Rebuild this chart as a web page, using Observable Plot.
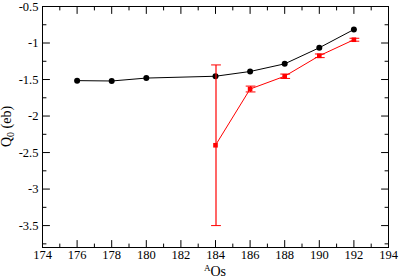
<!DOCTYPE html>
<html>
<head>
<meta charset="utf-8">
<script src="https://cdn.jsdelivr.net/npm/d3@7"></script>
<script src="https://cdn.jsdelivr.net/npm/@observablehq/plot@0.6"></script>
<style>
  html, body { margin: 0; padding: 0; background: #fff; }
  #chart { width: 399px; height: 279px; }
  #chart svg, #chart svg text, #chart svg tspan { font-family: "Liberation Serif", "Times New Roman", serif !important; }
</style>
</head>
<body>
<div id="chart"></div>
<script>
// Theory (black circles)
const theoryA = [176, 178, 180, 184, 186, 188, 190, 192];
const theoryQ0 = [-1.515, -1.52, -1.48, -1.455, -1.39, -1.285, -1.065, -0.815];
// Experiment (red squares with error bars)
const exptA = [184, 186, 188, 190, 192];
const exptQ0 = [-2.4, -1.63, -1.455, -1.175, -0.955];
const exptErr = [1.1, 0.04, 0.03, 0.025, 0.02];
// Axis ticks
const xMajor = [174, 176, 178, 180, 182, 184, 186, 188, 190, 192, 194];
const xMinor = [175, 177, 179, 181, 183, 185, 187, 189, 191, 193];
const yMajor = [-3.5, -3, -2.5, -2, -1.5, -1, -0.5];
const yMinor = [-3.75, -3.25, -2.75, -2.25, -1.75, -1.25, -0.75];

const theory = theoryA.map((a, i) => ({a, q: theoryQ0[i]}));
const expt = exptA.map((a, i) => ({a, q: exptQ0[i], lo: exptQ0[i] - exptErr[i], hi: exptQ0[i] + exptErr[i]}));

const tickShape = { draw(context, l) { context.moveTo(0, 0); context.lineTo(0, -l); } };

function ticks(values, ch, frameAnchor, rotate, length) {
  const o = {frameAnchor, rotate, length, anchor: "start", shape: tickShape, stroke: "black", strokeWidth: 1};
  o[ch] = d => d;
  return Plot.vector(values, o);
}

const fmt = d => String(d);
const RED = "#ff0000";
const SERIF = "Liberation Serif, Times New Roman, serif";

const plot = Plot.plot({
  width: 399,
  height: 279,
  marginLeft: 42,
  marginRight: 11,
  marginTop: 6,
  marginBottom: 32,
  style: {fontSize: "12px", background: "#fff", color: "black"},
  x: {domain: [174, 194], label: null},
  y: {domain: [-3.8, -0.5], label: null},
  marks: [
    Plot.frame({stroke: "black", strokeWidth: 1}),
    Plot.axisX(xMajor, {tickSize: 0, tickPadding: 3, tickFormat: fmt, label: null, fill: "black", fontFamily: SERIF, fontSize: 12.5}),
    Plot.axisY(yMajor, {tickSize: 0, tickPadding: 4, tickFormat: fmt, label: null, fill: "black", fontFamily: SERIF, fontSize: 12.5}),
    ticks(xMajor, "x", "bottom", 0, 7),
    ticks(xMinor, "x", "bottom", 0, 3.5),
    ticks(xMajor, "x", "top", 180, 7),
    ticks(xMinor, "x", "top", 180, 3.5),
    ticks(yMajor, "y", "left", 90, 7),
    ticks(yMinor, "y", "left", 90, 3.5),
    ticks(yMajor, "y", "right", -90, 7),
    ticks(yMinor, "y", "right", -90, 3.5),
    // theory
    Plot.line(theory, {x: "a", y: "q", stroke: "black", strokeWidth: 1}),
    Plot.dot(theory, {x: "a", y: "q", r: 3, fill: "black", stroke: "none"}),
    // experiment error bars
    Plot.link(expt, {x1: "a", x2: "a", y1: "lo", y2: "hi", stroke: RED, strokeWidth: 1.2, dx: 0.5}),
    Plot.vector(expt, {x: "a", y: "lo", rotate: 90, length: 9, anchor: "middle", shape: tickShape, stroke: RED, strokeWidth: 1, dx: 0.5}),
    Plot.vector(expt, {x: "a", y: "hi", rotate: 90, length: 9, anchor: "middle", shape: tickShape, stroke: RED, strokeWidth: 1, dx: 0.5}),
    Plot.line(expt, {x: "a", y: "q", stroke: RED, strokeWidth: 1}),
    Plot.dot(expt, {x: "a", y: "q", symbol: "square", r: 2.6, fill: RED, stroke: "none"})
  ]
});

const svg = d3.select(plot);
svg.attr("font-family", SERIF);
svg.selectAll("g").filter(function() { return this.hasAttribute("font-family"); }).attr("font-family", SERIF);
svg.selectAll("text").attr("font-family", SERIF);
// y axis title: Q_0 (eb)
const yt = svg.append("text")
  .attr("transform", "translate(11,126.5) rotate(-90)")
  .attr("text-anchor", "middle")
  .attr("font-family", SERIF)
  .attr("font-size", 14)
  .attr("fill", "black");
yt.append("tspan").text("Q");
yt.append("tspan").attr("font-size", 10).attr("dy", 3).text("0");
yt.append("tspan").attr("dy", -3).text(" (eb)");
// x axis title: ^A Os
const xt = svg.append("text")
  .attr("x", 215)
  .attr("y", 276)
  .attr("text-anchor", "middle")
  .attr("font-family", SERIF)
  .attr("font-size", 14)
  .attr("fill", "black");
xt.append("tspan").attr("font-size", 9).attr("dy", -5).text("A");
xt.append("tspan").attr("dy", 5).text("Os");

document.getElementById("chart").appendChild(plot);
</script>
</body>
</html>
